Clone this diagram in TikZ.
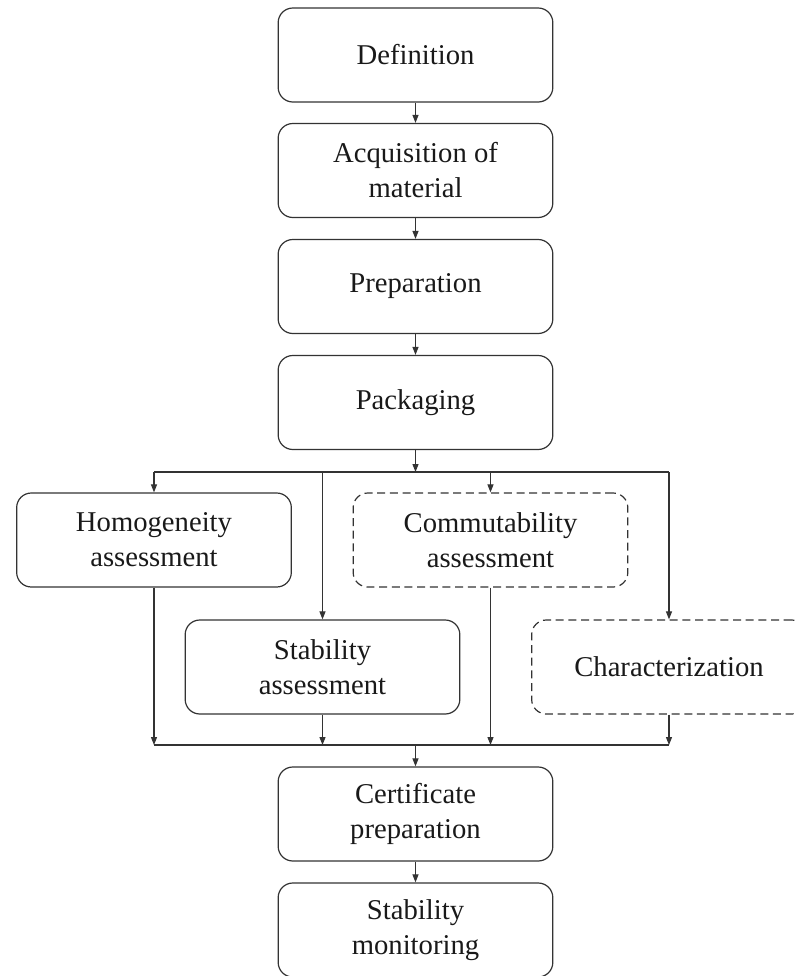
\documentclass[tikz,border=0pt]{standalone}
\usepackage{fontspec}
\setmainfont{Liberation Serif}
\usetikzlibrary{arrows.meta}

\begin{document}
\begin{tikzpicture}[
        x=0.75pt, y=-0.75pt,
        >={Triangle[length=6pt, width=4.5pt]},
        stage/.style={rectangle, rounded corners=11pt, draw=black!80, line width=0.9pt,
            minimum width=206pt, minimum height=70.5pt, inner sep=2pt,
            align=center, text=black!90, font=\fontsize{21.5}{26.25}\selectfont},
        optional/.style={stage, dash pattern=on 6pt off 3.5pt},
        link/.style={draw=black!80, line width=0.8pt}
    ]
    \useasboundingbox (0,0) rectangle (795,976);
    \clip (0,0) rectangle (795,976);

    % main chain
    \node[stage] (def)  at (415.5, 55)  {Definition};
    \node[stage] (acq)  at (415.5, 170.5) {Acquisition of\\material};
    \node[stage] (prep) at (415.5, 286.5) {Preparation};
    \node[stage] (pack) at (415.5, 402.5) {Packaging};

    % parallel studies
    \node[stage]    (homog) at (154, 540)   {Homogeneity\\assessment};
    \node[optional] (comm)  at (490.5, 540) {Commutability\\assessment};
    \node[stage]    (stab)  at (322.5, 667) {Stability\\assessment};
    \node[optional] (char)  at (669, 667)   {Characterization};

    \node[stage] (cert) at (415.5, 814) {Certificate\\preparation};
    \node[stage] (mon)  at (415.5, 930) {Stability\\monitoring};

    \foreach \a/\b in {def/acq, acq/prep, prep/pack, cert/mon}
        \draw[link, ->] (\a) -- (\b);

    % split and merge
    \coordinate (split) at (pack.south |- 0,472);
    \coordinate (merge) at (cert.north |- 0,745);
    \foreach \n in {homog, comm, stab, char} {
        \coordinate (s\n) at (\n.north |- split);
        \coordinate (m\n) at (\n.south |- merge);
        \draw[link, ->] (s\n) -- (\n.north);
        \draw[link, ->] (\n.south) -- (m\n);
    }
    \draw[link, ->] (pack) -- (split);
    \draw[link] (shomog) -- (schar);
    \draw[link] (mhomog) -- (mchar);
    \draw[link, ->] (merge) -- (cert);
\end{tikzpicture}
\end{document}
